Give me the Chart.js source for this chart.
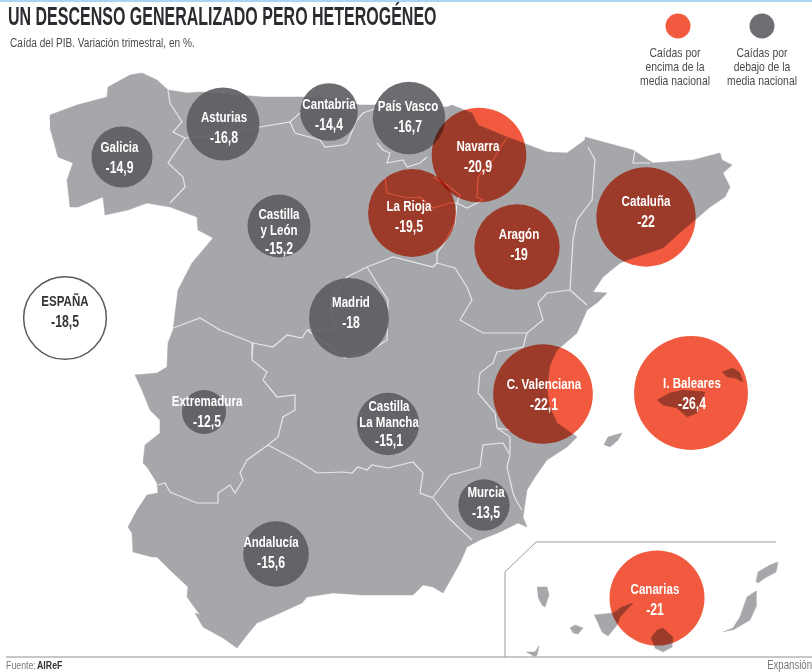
<!DOCTYPE html>
<html>
<head>
<meta charset="utf-8">
<style>
body { margin: 0; background: #fff; }
canvas { display: block; }
</style>
<script src="https://cdn.jsdelivr.net/npm/chart.js@4"></script>
</head>
<body>
<canvas id="mapChart" width="812" height="672"></canvas>
<script>
// DATA
const regions = ["Galicia", "Asturias", "Cantabria", "País Vasco", "Navarra", "La Rioja", "Castilla\ny León", "Aragón", "Cataluña", "Madrid", "Extremadura", "Castilla\nLa Mancha", "Andalucía", "C. Valenciana", "I. Baleares", "Murcia", "Canarias"];
const values = [-14.9, -16.8, -14.4, -16.7, -20.9, -19.5, -15.2, -19, -22, -18, -12.5, -15.1, -15.6, -22.1, -26.4, -13.5, -21];
const mapX = [122, 223, 329, 409, 479, 412, 279, 517, 646, 349, 204, 388, 276, 543, 691, 484, 657];
const mapY = [157, 124, 112, 118, 155, 213, 226, 247, 217, 318, 412, 424, 554, 394, 393, 505, 598];
const labelX = [119.5, 224, 329, 408, 478, 409, 279, 519, 646, 351, 207, 389, 271, 544, 692, 486, 655];
const labelY = [148, 118, 105, 107, 147, 207, 215, 235, 202, 303, 402, 407, 543, 385, 384, 493, 590];
const nationalName = "ESPAÑA";
const nationalValue = -18.5;
const nationalX = 65;
const nationalY = 318;
const nationalLabelY = 302;

// BASE MAP (map units)
const mainland = [[50,120],[50,115],[77,105],[107,97],[108,87],[130,75],[142,73],[157,80],[168,90],[187,93],[200,92],[263,97],[300,97],[330,98],[360,105],[377,105],[447,107],[452,105],[472,113],[478,125],[507,137],[523,143],[547,152],[567,153],[585,140],[585,137],[607,143],[633,150],[653,163],[667,162],[693,160],[720,153],[722,160],[732,165],[723,173],[730,187],[725,197],[710,207],[695,220],[683,230],[663,248],[633,258],[620,263],[603,277],[593,292],[607,293],[598,302],[587,310],[577,333],[563,345],[557,350],[550,365],[547,387],[549,405],[557,423],[577,437],[567,447],[547,460],[535,477],[527,490],[523,517],[527,527],[518,523],[500,532],[480,540],[467,547],[460,563],[443,593],[433,587],[423,585],[413,595],[363,595],[333,593],[307,597],[302,603],[280,613],[257,623],[247,635],[237,648],[223,638],[203,627],[195,613],[200,615],[187,597],[188,587],[170,570],[157,557],[152,557],[133,552],[132,533],[128,527],[137,510],[147,495],[158,493],[157,483],[147,467],[143,463],[145,445],[160,433],[160,420],[150,410],[142,390],[135,375],[157,373],[167,367],[168,343],[173,330],[178,290],[192,263],[213,238],[198,230],[197,217],[170,207],[147,203],[128,210],[105,215],[103,197],[78,207],[70,207],[67,180],[73,163],[58,157],[50,128]];
const islands = [
  [[657,400],[670,393],[683,390],[705,392],[702,402],[697,413],[687,417],[677,408],[663,405]],
  [[722,372],[733,368],[740,373],[743,382],[735,378],[727,377]],
  [[604,445],[608,437],[622,433],[618,440],[610,447]],
  [[537,587],[547,587],[549,595],[545,607],[542,605],[538,597]],
  [[570,628],[575,625],[583,628],[578,634],[573,633]],
  [[526,652],[535,652],[539,646],[537,655],[535,657]],
  [[594,615],[613,613],[622,607],[633,603],[620,617],[617,625],[608,636],[602,632],[598,623]],
  [[651,638],[657,630],[663,628],[673,637],[672,647],[663,652],[655,648]],
  [[723,632],[733,628],[740,617],[747,597],[756,591],[756,607],[750,620],[733,630]],
  [[756,582],[758,572],[770,565],[778,562],[776,572],[765,578],[758,583]]
];
const borders = [
  [[168,90],[170,103],[182,122],[173,132],[185,138],[168,163],[183,177],[185,187],[170,203]],
  [[185,138],[220,135],[260,127],[290,122],[295,133],[320,140],[325,147],[343,145],[347,143],[357,120],[363,113],[377,108]],
  [[290,122],[300,113],[312,108]],
  [[377,143],[383,150],[390,153],[387,163],[403,160],[407,167],[420,163],[427,157]],
  [[385,178],[387,193],[407,198],[420,197],[433,208],[450,203],[457,203]],
  [[433,177],[447,185],[460,195],[457,203],[467,208],[483,200],[477,197],[478,177],[493,160],[507,137]],
  [[457,203],[455,223],[443,245],[437,253],[437,263],[433,267],[393,257],[367,267],[347,277],[330,300],[335,330],[307,330],[302,338],[287,335],[273,347],[253,343],[220,330],[200,318],[173,328]],
  [[437,263],[455,268],[467,287],[472,300],[460,320],[483,333],[527,333],[543,320],[538,303],[547,293],[570,290],[573,240],[577,220],[592,200],[595,160],[588,147]],
  [[570,290],[587,305]],
  [[635,150],[633,163],[650,163]],
  [[367,267],[377,283],[388,300],[387,340],[372,350],[345,358],[335,350],[307,330]],
  [[253,343],[252,360],[267,372],[263,380],[277,397],[295,395],[295,410],[283,417],[278,437],[268,445],[247,460],[240,473],[243,480],[235,493],[230,485],[218,493],[218,503],[197,503],[170,492],[165,483],[158,485]],
  [[268,445],[300,462],[317,473],[343,472],[352,473],[358,467],[367,470],[372,465],[388,468],[413,462],[423,473],[420,493],[433,498],[448,517],[458,527],[472,540]],
  [[433,497],[450,475],[462,472],[480,467],[483,445],[503,443],[510,455],[507,467],[513,493],[517,502],[522,510]],
  [[510,453],[510,437],[497,428],[495,413],[478,393],[480,373],[493,363],[497,352],[523,347],[527,333]],
  [[497,428],[510,430]]
];
const insetFrame = [[505,657],[505,572],[536,542],[776,542]];
const footRule = [[6,657],[812,657]];
const topRule = [[0,1],[812,1]];
const legendX = [678, 762];
const legendY = [26, 26];

const RED = "#f15a3e";
const GRAY = "rgba(92,93,97,0.9)";

// bubble size follows the size of the fall
function bubbleR(v) {
    const a = Math.abs(v);
    return 22 + 3.27 * (a - 12.5) - 0.09 * (a - 12.5) * (a - 18);
}

function toPts(list) {
    return list.map(p => ({ x: p[0], y: p[1] }));
}

function bubblePts(pick) {
    let out = [];
    values.forEach((v, i) => {
        if (pick(v)) out.push({ x: mapX[i], y: mapY[i], r: bubbleR(v), name: regions[i], val: v, lx: labelX[i], ly: labelY[i] });
    });
    return out;
}

function outline(list, color, width, order) {
    return { type: "scatter", data: toPts(list), showLine: true, borderColor: color, borderWidth: width, pointRadius: 0, tension: 0, order: order };
}

function shape(list) {
    return { type: "scatter", data: toPts(list), showLine: true, fill: "shape", backgroundColor: "#a6a7aa", borderColor: "#a6a7aa", borderWidth: 0.5, pointRadius: 0, tension: 0, order: 9 };
}

let datasets = [];
datasets.push(shape(mainland));
islands.forEach(p => datasets.push(shape(p)));
borders.forEach(p => datasets.push(outline(p, "#e6e6e8", 1.2, 8)));
datasets.push(outline(insetFrame, "#9a9b9e", 1, 8));
datasets.push(outline(footRule, "#b4b5b8", 1.5, 8));
datasets.push(outline(topRule, "#a9d5f2", 2, 8));

datasets.push({ data: bubblePts(v => v >= nationalValue), backgroundColor: GRAY, borderWidth: 0, order: 3 });
datasets.push({ data: bubblePts(v => v < nationalValue), backgroundColor: RED, borderWidth: 0, order: 2, multiply: true });
datasets.push({
    data: [{ x: nationalX, y: nationalY, r: bubbleR(nationalValue), name: nationalName, val: nationalValue, lx: nationalX, ly: nationalLabelY, dark: true }],
    backgroundColor: "#fff", borderColor: "#5a5b5e", borderWidth: 1.5, order: 3
});
datasets.push({ data: [{ x: legendX[0], y: legendY[0], r: 12.5 }], backgroundColor: RED, borderWidth: 0, order: 3 });
datasets.push({ data: [{ x: legendX[1], y: legendY[1], r: 12.5 }], backgroundColor: "#6d6e72", borderWidth: 0, order: 3 });

const SANS = '"Liberation Sans", sans-serif';

// no condensed face is installed, so the text is squeezed with fillText's maxWidth
function put(ctx, text, x, y, font, color, align, squeeze) {
    ctx.font = font;
    ctx.fillStyle = color;
    ctx.textAlign = align || "left";
    ctx.textBaseline = "middle";
    ctx.fillText(text, x, y, ctx.measureText(text).width * (squeeze || 0.7));
}

// white page under everything, so the multiply blend has something to work on
const pagePlugin = {
    id: "page",
    beforeDraw(chart) {
        const ctx = chart.ctx;
        ctx.save();
        ctx.fillStyle = "#fff";
        ctx.fillRect(0, 0, chart.width, chart.height);
        ctx.restore();
    },
    beforeDatasetDraw(chart, args) {
        if (chart.data.datasets[args.index].multiply) {
            chart.ctx.save();
            chart.ctx.globalCompositeOperation = "multiply";
        }
    },
    afterDatasetDraw(chart, args) {
        if (chart.data.datasets[args.index].multiply) chart.ctx.restore();
    }
};

// bubble labels and the page texts
const textPlugin = {
    id: "texts",
    afterDatasetsDraw(chart) {
        const ctx = chart.ctx;
        const sx = chart.scales.x;
        const sy = chart.scales.y;
        ctx.save();
        chart.data.datasets.forEach(ds => {
            if (!ds.data[0] || !ds.data[0].name) return;
            ds.data.forEach(d => {
                const lines = d.name.split("\n");
                const color = d.dark ? "#333438" : "#fff";
                const x = sx.getPixelForValue(d.lx);
                const y = sy.getPixelForValue(d.ly);
                lines.forEach((t, k) => {
                    put(ctx, t, x, y + k * 15.5, "bold 15px " + SANS, color, "center", 0.77);
                });
                const vy = lines.length > 1 ? y + 34 : y + 20.5;
                put(ctx, String(d.val).replace(".", ","), x, vy, "bold 17px " + SANS, color, "center", 0.72);
            });
        });

        put(ctx, "UN DESCENSO GENERALIZADO PERO HETEROGÉNEO", 8, 18, "bold 25px " + SANS, "#2b2c30", "left", 0.64);
        put(ctx, "Caída del PIB. Variación trimestral, en %.", 10, 44, "12px " + SANS, "#4a4b4f", "left", 0.84);

        const legendA = ["Caídas por", "encima de la", "media nacional"];
        const legendB = ["Caídas por", "debajo de la", "media nacional"];
        legendA.forEach((t, k) => put(ctx, t, 675, 53 + k * 14, "13px " + SANS, "#4a4b4f", "center", 0.8));
        legendB.forEach((t, k) => put(ctx, t, 762, 53 + k * 14, "13px " + SANS, "#4a4b4f", "center", 0.8));

        put(ctx, "Fuente:", 6, 666, "11px " + SANS, "#77787c", "left", 0.8);
        put(ctx, "AIReF", 37, 666, "bold 11px " + SANS, "#333438", "left", 0.8);
        put(ctx, "Expansión", 812, 666, "12px " + SANS, "#77787c", "right", 0.8);
        ctx.restore();
    }
};

new Chart(document.getElementById("mapChart"), {
    type: "bubble",
    data: { datasets: datasets },
    options: {
        responsive: false,
        animation: false,
        events: [],
        layout: { padding: 0, autoPadding: false },
        plugins: { legend: { display: false }, tooltip: { enabled: false }, title: { display: false } },
        scales: {
            x: { type: "linear", min: 0, max: 812, display: false },
            y: { type: "linear", min: 0, max: 672, reverse: true, display: false }
        }
    },
    plugins: [pagePlugin, textPlugin]
});
</script>
</body>
</html>
